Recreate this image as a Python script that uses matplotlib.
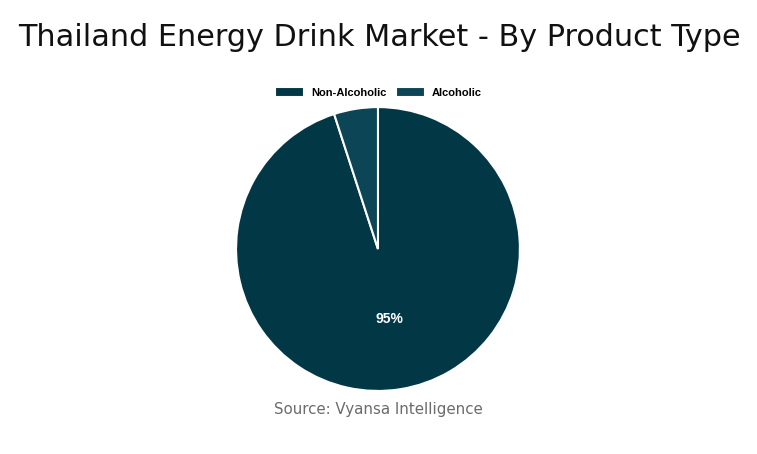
import matplotlib

matplotlib.use("Agg")
import matplotlib.pyplot as plt

plt.rcParams["font.family"] = ["DejaVu Sans"]

# --- data --------------------------------------------------------------------
LABELS = ["Non-Alcoholic", "Alcoholic"]
SHARES = [95, 5]
COLORS = ["#023846", "#0c4556"]

fig = plt.figure(figsize=(7.57, 4.54), dpi=100)
fig.patch.set_facecolor("white")

# pie axes: centre ~(378, 249) px, radius ~142 px
ax = fig.add_axes([0.3118, 0.1387, 0.375, 0.6256])
wedges, _, autotexts = ax.pie(
    SHARES, colors=COLORS, startangle=90, counterclock=False,
    autopct=lambda p: f"{p:.0f}%" if p > 10 else "", pctdistance=0.5,
    wedgeprops=dict(edgecolor="white", linewidth=1.5),
    textprops=dict(color="white", fontsize=10, fontweight="bold",
                   family="Liberation Sans"))
ax.set_xlim(-1, 1)
ax.set_ylim(-1, 1)
ax.set_aspect("equal")

fig.text(0.024, 0.918, "Thailand Energy Drink Market - By Product Type",
         fontsize=21.8, ha="left", va="center", color="#111111")

fig.legend(wedges, LABELS, loc="center", bbox_to_anchor=(0.5, 0.797),
           ncol=2, frameon=False, handlelength=2.6, handleheight=1.1,
           columnspacing=0.9, handletextpad=0.6,
           prop=dict(size=8, weight="bold", family="Liberation Sans"))

fig.text(0.5, 0.097, "Source: Vyansa Intelligence", fontsize=10.8,
         ha="center", va="center", color="#6b6b6b")

fig.savefig("out.png", dpi=100)
